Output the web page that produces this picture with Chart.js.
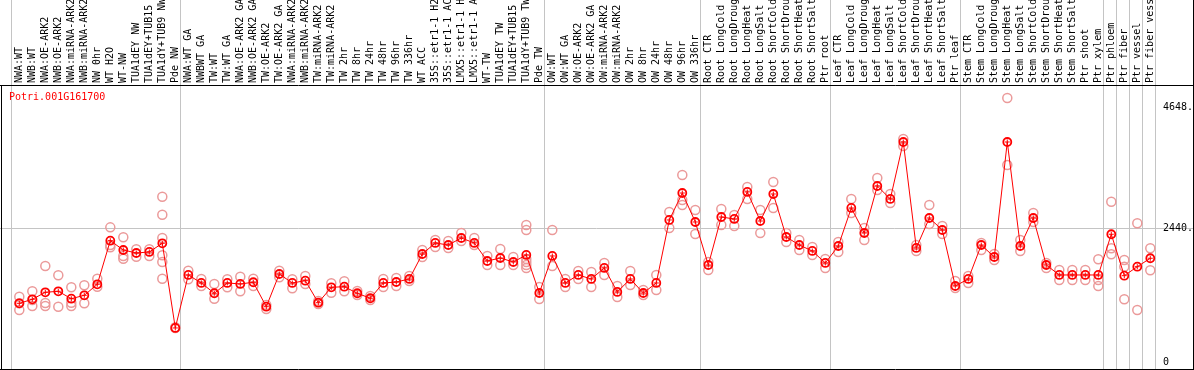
<!DOCTYPE html>
<html>
<head>
<meta charset="utf-8">
<script src="https://cdn.jsdelivr.net/npm/chart.js@4"></script>
<style>
html,body{margin:0;padding:0;background:#fff;}
canvas{display:block;}
</style>
</head>
<body>
<canvas id="c" width="1194" height="370"></canvas>
<script>
const geneId = 'Potri.001G161700';

const categories = [
 'NWA:WT','NWB:WT','NWA:OE-ARK2','NWB:OE-ARK2','NWA:miRNA-ARK2','NWB:miRNA-ARK2','NW 0hr','WT H2O','WT-NW','TUA1dEY NW','TUA1dEY+TUB15 NW','TUA1dY+TUB9 NW','Pde NW',
 'NWA:WT GA','NWBWT GA','TW:WT','TW:WT GA','NWA:OE-ARK2 GA','NWB:OE-ARK2 GA','TW:OE-ARK2','TW:OE-ARK2 GA','NWA:miRNA-ARK2 GA','NWB:miRNA-ARK2 GA','TW:miRNA-ARK2','TW:miRNA-ARK2 GA',
 'TW 2hr','TW 8hr','TW 24hr','TW 48hr','TW 96hr','TW 336hr','WT ACC','35S::etr1-1 H2O','35S::etr1-1 ACC','LMX5::etr1-1 H2O','LMX5::etr1-1 ACC','WT-TW','TUA1dEY TW','TUA1dEY+TUB15 TW','TUA1dY+TUB9 TW','Pde TW',
 'OW:WT','OW:WT GA','OW:OE-ARK2','OW:OE-ARK2 GA','OW:miRNA-ARK2','OW:miRNA-ARK2 GA','OW 2hr','OW 8hr','OW 24hr','OW 48hr','OW 96hr','OW 336hr',
 'Root CTR','Root LongCold','Root LongDrought','Root LongHeat','Root LongSalt','Root ShortCold','Root ShortDrought','Root ShortHeat','Root ShortSalt','Ptr root',
 'Leaf CTR','Leaf LongCold','Leaf LongDrought','Leaf LongHeat','Leaf LongSalt','Leaf ShortCold','Leaf ShortDrought','Leaf ShortHeat','Leaf ShortSalt','Ptr leaf',
 'Stem CTR','Stem LongCold','Stem LongDrought','Stem LongHeat','Stem LongSalt','Stem ShortCold','Stem ShortDrought','Stem ShortHeat','Stem ShortSalt','Ptr shoot',
 'Ptr xylem','Ptr phloem','Ptr fiber','Ptr vessel','Ptr fiber vessel'
];

const meanValues = [
 1071,1144,1272,1290,1155,1217,1418,2214,2044,1989,2008,2166,621,
 1588,1442,1254,1442,1424,1455,1009,1606,1442,1484,1082,1363,
 1374,1254,1163,1442,1460,1515,1971,2172,2135,2263,2172,1843,1898,1825,1953,1259,
 1935,1442,1588,1515,1716,1278,1515,1259,1442,2592,3084,2555,
 1770,2646,2610,3103,2573,3066,2281,2135,2026,1807,
 2117,2811,2354,3212,2975,4015,2081,2628,2409,1387,
 1515,2135,1916,4015,2117,2628,1770,1588,1588,1588,
 1588,2331,1575,1739,1893
];

const replicateValues = [
 [1192,949,1071],[1290,1022,1132],[1752,1022,1077],[1582,1009],[1363,1022,1082],[1400,1071],[1520,1374],[2457,2092,2135],[2276,1885,1935],[2057,1922],[2057,1935],[3017,2688,2263,1947,1825,1520],[633,621],
 [1666,1509],[1515,1387],[1424,1155],[1509,1363],[1557,1290],[1520,1387],[1040,967],[1666,1546],[1509,1345],[1570,1424],[1113,1059],[1436,1265],
 [1473,1290],[1296,1223],[1205,1132],[1515,1369],[1533,1387],[1570,1478],[2044,1916],[2227,2099],[2208,2081],[2354,2208],[2263,2135],[1935,1770],[2062,1770],[1916,1770],[2500,2409,1880,1825,1770,1716],[1369,1150],
 [2409,1752],[1515,1369],[1661,1515],[1643,1369],[1807,1588],[1387,1186],[1661,1405],[1314,1223],[1588,1314],[2738,2446],[3413,2957,2865],[2774,2336],
 [1825,1679],[2792,2500],[2683,2482],[3194,2975],[2774,2354],[3285,2811],[2354,2190],[2227,2044],[2099,1953],[1880,1716],
 [2190,2008],[2975,2719],[2446,2227],[3358,3139],[3066,2902],[4070,3942],[2135,2026],[2865,2519],[2482,2336],[1478,1351],
 [1570,1442],[2172,2044],[1971,1862],[4818,3595],[2227,2026],[2719,2555],[1807,1716],[1679,1497],[1679,1497],[1679,1497],
 [1874,1497,1387],[2925,2075,1965],[1862,1739,1144],[2531,949],[2075,1673]
];

const yTickValues = [4648, 2440, 0];
const yTickLabels = ['4648.', '2440.', '0'];
const gridValue = 2440;
const groupEnds = [-1, 12, 40, 52, 62, 72, 83, 84, 85, 86, 87];

const FONT = '"DejaVu Sans Mono", "Liberation Mono", monospace';

const meanData = meanValues.map((v, i) => ({x: i, y: v}));
const repData = [];
replicateValues.forEach((arr, i) => arr.forEach(v => repData.push({x: i, y: v})));

const decorPlugin = {
  id: 'decor',
  beforeDraw(chart) {
    const ctx = chart.ctx, xs = chart.scales.x, ys = chart.scales.y, a = chart.chartArea;
    ctx.save();
    ctx.fillStyle = '#fff';
    ctx.fillRect(0, 0, chart.width, chart.height);
    ctx.strokeStyle = '#c4c4c4';
    ctx.lineWidth = 1;
    groupEnds.forEach(g => {
      const px = Math.round(xs.getPixelForValue(g + 0.36)) + 0.5;
      ctx.beginPath(); ctx.moveTo(px, 0); ctx.lineTo(px, a.bottom); ctx.stroke();
    });
    const gy = Math.round(ys.getPixelForValue(gridValue)) + 0.5;
    ctx.beginPath(); ctx.moveTo(0, gy); ctx.lineTo(a.right, gy); ctx.stroke();
    ctx.restore();
  },
  afterDraw(chart) {
    const ctx = chart.ctx, ys = chart.scales.y;
    ctx.save();
    ctx.strokeStyle = '#000';
    ctx.lineWidth = 1;
    ctx.beginPath();
    ctx.moveTo(0, 85.5); ctx.lineTo(chart.width, 85.5);
    ctx.moveTo(1.5, 85); ctx.lineTo(1.5, 370);
    ctx.moveTo(1193.5, 0); ctx.lineTo(1193.5, 370);
    ctx.moveTo(0, 369.5); ctx.lineTo(chart.width, 369.5);
    ctx.stroke();
    ctx.font = '10px ' + FONT;
    ctx.textBaseline = 'middle';
    ctx.textAlign = 'left';
    ctx.fillStyle = '#ff0000';
    ctx.fillText(geneId, 9, 97);
    ctx.fillStyle = '#000';
    yTickValues.forEach((v, k) => {
      ctx.fillText(yTickLabels[k], 1163, ys.getPixelForValue(v));
    });
    ctx.restore();
  }
};

new Chart(document.getElementById('c'), {
  type: 'scatter',
  data: {
    datasets: [
      {
        label: 'centre',
        data: meanData,
        showLine: false,
        pointStyle: 'cross',
        pointRadius: 2.5,
        pointBorderWidth: 1,
        pointBorderColor: '#ff0000',
        order: 0
      },
      {
        label: 'mean',
        data: meanData,
        showLine: true,
        borderColor: '#ff0000',
        borderWidth: 1,
        pointStyle: 'circle',
        pointRadius: 4,
        pointBorderWidth: 1.8,
        pointBorderColor: '#ff0000',
        pointBackgroundColor: 'rgba(0,0,0,0)',
        order: 1
      },
      {
        label: 'replicates',
        data: repData,
        showLine: false,
        pointStyle: 'circle',
        pointRadius: 4.5,
        pointBorderWidth: 1.5,
        pointBorderColor: '#eb9a9a',
        pointBackgroundColor: 'rgba(0,0,0,0)',
        order: 2
      }
    ]
  },
  options: {
    responsive: false,
    devicePixelRatio: 1,
    animation: false,
    events: [],
    layout: {autoPadding: false, padding: {left: 1, right: 1, top: 0, bottom: 1}},
    plugins: {legend: {display: false}, tooltip: {enabled: false}, title: {display: false}},
    scales: {
      x: {
        type: 'linear',
        position: 'top',
        min: -1.408,
        max: 90.285,
        grid: {display: false, drawTicks: false},
        border: {display: false},
        afterBuildTicks: s => { s.ticks = categories.map((_, i) => ({value: i})); },
        afterFit: s => { s.height = 85; s.paddingLeft = 0; s.paddingRight = 0; },
        ticks: {
          autoSkip: false,
          minRotation: 90,
          maxRotation: 90,
          padding: 2,
          color: '#000',
          font: {family: FONT, size: 10, lineHeight: 0},
          callback: v => categories[v]
        }
      },
      y: {
        type: 'linear',
        display: false,
        min: -128,
        max: 5055
      }
    }
  },
  plugins: [decorPlugin]
});
</script>
</body>
</html>
